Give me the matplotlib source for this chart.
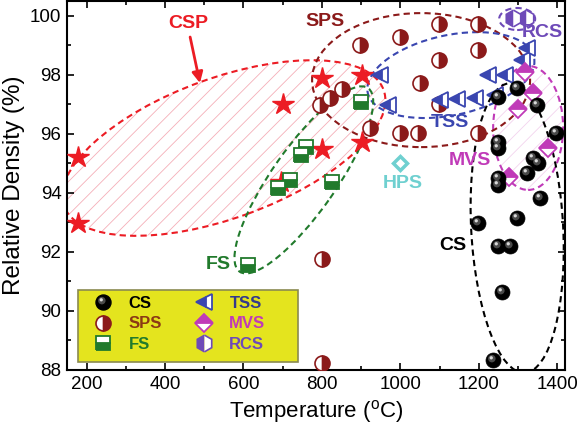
import matplotlib
matplotlib.use('Agg')
import matplotlib.pyplot as plt
import numpy as np
from matplotlib.patches import Ellipse, Rectangle
from matplotlib.lines import Line2D
from matplotlib.path import Path
from matplotlib.legend_handler import HandlerTuple
import matplotlib.transforms as mtransforms
from matplotlib.ticker import MultipleLocator

plt.rcParams['font.family'] = ['Liberation Sans', 'DejaVu Sans']
plt.rcParams['mathtext.fontset'] = 'custom'
plt.rcParams['mathtext.rm'] = 'Liberation Sans'
plt.rcParams['hatch.linewidth'] = 0.6

# ---------------- data ----------------
cs_x = [1249, 1298, 1349, 1397, 1249, 1249, 1338, 1351, 1323, 1249, 1249, 1356, 1298, 1198, 1249, 1280, 1259, 1236]
cs_y = [97.25, 97.55, 96.98, 96.03, 95.72, 95.52, 95.18, 95.01, 94.67, 94.50, 94.27, 93.83, 93.15, 92.98, 92.20, 92.20, 90.64, 88.34]

sps_x = [897, 999, 1099, 1198, 1198, 1099, 1050, 851, 821, 795, 1099, 923, 999, 1045, 1198, 800, 800]
sps_y = [99.01, 99.28, 99.72, 99.72, 98.84, 98.50, 97.72, 97.52, 97.21, 96.98, 97.01, 96.20, 96.03, 96.03, 96.03, 91.76, 88.24]

fs_x = [688, 719, 747, 759, 826, 900, 612]
fs_y = [94.17, 94.44, 95.28, 95.56, 94.37, 97.08, 91.56]

csp_x = [178, 178, 701, 696, 800, 800, 902, 902]
csp_y = [95.22, 92.98, 97.01, 94.37, 97.89, 95.49, 97.99, 95.72]

tss_x = [948, 969, 1101, 1145, 1191, 1241, 1224, 1267, 1310, 1323]
tss_y = [97.99, 96.98, 97.15, 97.18, 97.21, 97.32, 97.99, 97.99, 98.50, 98.91]

mvs_x = [1318, 1338, 1300, 1377, 1277]
mvs_y = [98.09, 97.38, 96.84, 95.52, 94.54]

rcs_x = [1287, 1320]
rcs_y = [99.92, 99.92]

hps_x = [1000]
hps_y = [95.0]

legend_labels = ['CS', 'SPS', 'FS', 'TSS', 'MVS', 'RCS']

# ---------------- colours ----------------
RED = '#EC1C24'
DRED = '#8B1A1A'
GREEN = '#217A2C'
BLUE = '#3A46B0'
MAG = '#C03AB8'
PURP = '#6E4AB8'
CYAN = '#6FD0D0'

fig = plt.figure(figsize=(5.8, 4.33), dpi=100)
ax = fig.add_axes([67/580, 1-370/433, 498/580, 369/433])
ax.set_xlim(150, 1420)
ax.set_ylim(88, 100.5)


def ell(cx, cy, w, h, ang, color, hatch=None, hatchcolor=None):
    tr = fig.dpi_scale_trans + mtransforms.ScaledTranslation(cx, cy, ax.transData)
    if hatch:
        e0 = Ellipse((0, 0), w, h, angle=ang, transform=tr, facecolor='none',
                     edgecolor=hatchcolor, hatch=hatch, lw=0, zorder=1)
        ax.add_patch(e0)
    e = Ellipse((0, 0), w, h, angle=ang, transform=tr, fill=False,
                edgecolor=color, lw=1.5, ls=(0, (3, 2)), zorder=2)
    ax.add_patch(e)

# ellipses (size in inches)
ell(550, 95.52, 3.40, 1.40, 20, RED, hatch='//', hatchcolor='#F5AEB8')
ell(1326, 96.2, 0.70, 1.24, 0, MAG, hatch='//', hatchcolor='#F3D3EE')
ell(1053, 97.82, 2.18, 1.34, 0, DRED)
ell(1129, 97.99, 1.70, 0.80, 12, BLUE)
ell(1298, 99.89, 0.36, 0.22, 0, PURP)
ell(1298, 92.81, 0.92, 2.90, 3, 'black')
ell(754, 94.44, 2.24, 0.64, 55, GREEN)

# markers
ms = 10.8
ax.plot(csp_x, csp_y, ls='none', marker='*', ms=16, color=RED, mec=RED, zorder=4)
ax.plot(sps_x, sps_y, ls='none', marker='o', ms=ms, fillstyle='right', mfc=DRED,
        mfcalt='white', mec=DRED, mew=1.2, zorder=4)
ax.plot(fs_x, fs_y, ls='none', marker='s', ms=9.5, fillstyle='bottom', mfc=GREEN,
        mfcalt='white', mec=GREEN, mew=1.3, zorder=4)
ax.plot(tss_x, tss_y, ls='none', marker='<', ms=12, fillstyle='left', mfc=BLUE,
        mfcalt='white', mec=BLUE, mew=1.3, zorder=4)
ax.plot(mvs_x, mvs_y, ls='none', marker='D', ms=9, fillstyle='top', mfc=MAG,
        mfcalt='white', mec=MAG, mew=1.3, zorder=4)
ax.plot(rcs_x, rcs_y, ls='none', marker='h', ms=12, fillstyle='left', mfc=PURP,
        mfcalt='white', mec=PURP, mew=1.2, zorder=4)
ax.plot(hps_x, hps_y, ls='none', marker='D', ms=7, mfc='white', mec=CYAN, mew=2.5, zorder=4)

# sphere highlight markers
def circ_marker(cx, cy, r):
    c = Path.circle((cx, cy), r)
    pad = Path([[1, 0], [1, 0], [-1, 0], [-1, 0]],
               [Path.MOVETO, Path.LINETO, Path.MOVETO, Path.LINETO])
    return Path.make_compound_path(c, pad)

hl1 = circ_marker(-0.22, 0.25, 0.50)
hl2 = circ_marker(-0.30, 0.36, 0.22)
ax.plot(cs_x, cs_y, ls='none', marker='o', ms=ms, mfc='black', mec='black', mew=0.5, zorder=5)
ax.plot(cs_x, cs_y, ls='none', marker=hl1, ms=ms, mfc='#4a4a4a', mew=0, zorder=5)
ax.plot(cs_x, cs_y, ls='none', marker=hl2, ms=ms, mfc='#d8d8d8', mew=0, zorder=5)

# labels
bold = dict(fontweight='bold', fontsize=14, ha='center', va='center', zorder=7)
ax.text(458, 99.75, 'CSP', color=RED, **bold)
ax.text(808, 99.79, 'SPS', color=DRED, **bold)
ax.text(1127, 96.37, 'TSS', color=BLUE, **bold)
ax.text(1007, 94.33, 'HPS', color=CYAN, **bold)
ax.text(1178, 95.11, 'MVS', color=MAG, **bold)
ax.text(1361, 99.42, 'RCS', color=PURP, **bold)
ax.text(1134, 92.23, 'CS', color='black', **bold)
ax.text(535, 91.56, 'FS', color=GREEN, **bold)
ax.annotate('', xy=(489, 97.72), xytext=(464, 99.28),
            arrowprops=dict(arrowstyle='-|>', color=RED, lw=2, mutation_scale=16, shrinkA=0, shrinkB=0),
            zorder=7)

# legend box
box = Rectangle((78/580, 1-362/433), 220/580, 72/433, transform=fig.transFigure,
                facecolor='#E4E41E', edgecolor='#8A8A50', lw=1.2, zorder=8)
ax.add_patch(box)

h_cs = (Line2D([], [], ls='none', marker='o', ms=ms, mfc='black', mec='black'),
        Line2D([], [], ls='none', marker=hl1, ms=ms, mfc='#4a4a4a', mew=0),
        Line2D([], [], ls='none', marker=hl2, ms=ms, mfc='#d8d8d8', mew=0))
h_sps = Line2D([], [], ls='none', marker='o', ms=ms, fillstyle='right', mfc=DRED, mfcalt='white', mec=DRED, mew=1.2)
h_fs = Line2D([], [], ls='none', marker='s', ms=9.5, fillstyle='bottom', mfc=GREEN, mfcalt='white', mec=GREEN, mew=1.3)
h_tss = Line2D([], [], ls='none', marker='<', ms=12, fillstyle='left', mfc=BLUE, mfcalt='white', mec=BLUE, mew=1.3)
h_mvs = Line2D([], [], ls='none', marker='D', ms=9, fillstyle='top', mfc=MAG, mfcalt='white', mec=MAG, mew=1.3)
h_rcs = Line2D([], [], ls='none', marker='h', ms=12, fillstyle='left', mfc=PURP, mfcalt='white', mec=PURP, mew=1.2)

leg = ax.legend([h_cs, h_sps, h_fs, h_tss, h_mvs, h_rcs], legend_labels, ncol=2,
                handler_map={tuple: HandlerTuple(ndivide=1)},
                loc='upper left', bbox_to_anchor=(81/580, 1-291/433), bbox_transform=fig.transFigure,
                frameon=False, prop=dict(weight='bold', size=12),
                labelcolor=['black', '#8B3A14', GREEN, '#333A8C', MAG, PURP],
                borderpad=0.3, handlelength=2.0, handletextpad=0.55, columnspacing=1.5,
                labelspacing=0.33, borderaxespad=0)
leg.set_zorder(9)

# axes styling
for s in ax.spines.values():
    s.set_linewidth(1.5)
ax.xaxis.set_major_locator(MultipleLocator(200))
ax.xaxis.set_minor_locator(MultipleLocator(100))
ax.yaxis.set_major_locator(MultipleLocator(2))
ax.yaxis.set_minor_locator(MultipleLocator(1))
ax.tick_params(which='both', direction='in', top=True, right=True, width=1.2)
ax.tick_params(which='major', length=5, labelsize=13.5, pad=4)
ax.tick_params(which='minor', length=3)
ax.set_xlabel('Temperature ($^{\\mathrm{o}}$C)', fontsize=16, labelpad=4)
ax.set_ylabel('Relative Density (%)', fontsize=17.5, labelpad=4)

fig.savefig('out.png', dpi=100)
